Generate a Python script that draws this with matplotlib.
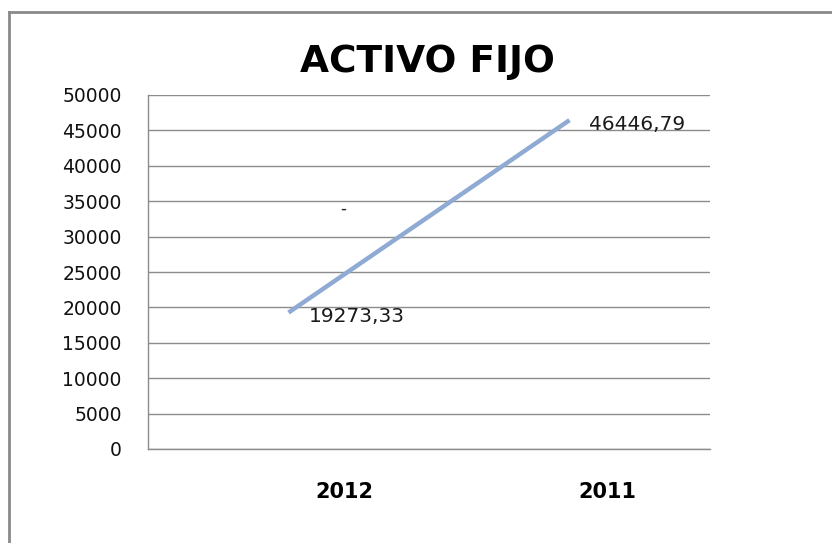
import matplotlib
matplotlib.use("Agg")
import matplotlib.pyplot as plt
import matplotlib.transforms as mtransforms
from matplotlib.lines import Line2D

# Data
title = "ACTIVO FIJO"
categories = ["2012", "2011"]
values = [19273.33, 46446.79]
value_labels = ["19273,33", "46446,79"]
y_ticks = [0, 5000, 10000, 15000, 20000, 25000, 30000, 35000, 40000, 45000, 50000]

fig = plt.figure(figsize=(8.32, 5.43), dpi=100)
fig.patch.set_facecolor("white")

ax = fig.add_axes([148/832, 1-449/543, (710-148)/832, (449-95)/543])
x = list(range(len(categories)))
ax.plot(x, values, color="#8FAAD3", lw=3.2, solid_capstyle="butt")

ax.set_xlim(-0.5, len(categories) - 0.5)
ax.set_ylim(0, 50000)
ax.set_yticks(y_ticks)
ax.set_yticklabels([str(t) for t in y_ticks])
ax.yaxis.grid(True, color="#8C8C8C", lw=1)
ax.set_axisbelow(True)
for s in ["top", "right"]:
    ax.spines[s].set_visible(False)
for s in ["left", "bottom"]:
    ax.spines[s].set_color("#8C8C8C")
    ax.spines[s].set_linewidth(1)
ax.tick_params(axis="y", length=0, pad=19, labelsize=13.5, labelcolor="#111111")
ax.tick_params(axis="x", length=0, pad=24)
ax.set_xticks(x)
ax.set_xticklabels(categories, fontsize=15, fontweight="bold")
offsets = [56, 38]
for lab, off in zip(ax.get_xticklabels(), offsets):
    lab.set_transform(lab.get_transform() + mtransforms.ScaledTranslation(off/100, 0, fig.dpi_scale_trans))

# Data labels
for xi, v, lbl in zip(x, values, value_labels):
    ax.annotate(lbl, (xi, v), xytext=(20, -4), textcoords="offset pixels",
                ha="left", va="center", fontsize=14.5, color="#1a1a1a")

# stray dash label
ax.text(0.348, 0.68, "-", transform=ax.transAxes, ha="center", va="center", fontsize=12, color="#222222")

# Title
fig.text(0.514, 0.886, title, ha="center", va="center", fontsize=27, fontweight="bold")

# Outer frame (left and top border)
fig.add_artist(Line2D([9/832, 9/832], [0, 1-12/543], transform=fig.transFigure, color="#8A8A8A", lw=2))
fig.add_artist(Line2D([9/832, 1], [1-12/543, 1-12/543], transform=fig.transFigure, color="#8A8A8A", lw=2))

fig.savefig("out.png", dpi=100)
